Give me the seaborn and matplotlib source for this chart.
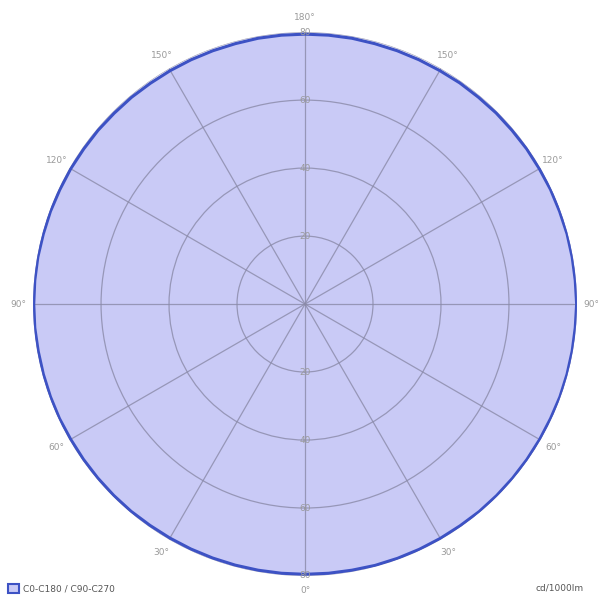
import numpy as np
import matplotlib
matplotlib.use("Agg")
import matplotlib.pyplot as plt
import seaborn as sns
from matplotlib.patches import Patch

# luminous intensity, cd/1000lm, every 5 degrees (0..360)
angles_deg = list(range(0, 361, 5))
intensity = [79.5, 79.5, 79.5, 79.6, 79.6, 79.6, 79.6, 79.6, 79.7, 79.7, 79.7, 79.7,
             79.7, 79.7, 79.8, 79.8, 79.8, 79.8, 79.9, 79.8, 79.8, 79.8, 79.7, 79.7,
             79.6, 79.6, 79.5, 79.5, 79.4, 79.4, 79.3, 79.3, 79.3, 79.3, 79.4, 79.4,
             79.4, 79.4, 79.4, 79.3, 79.3, 79.3, 79.3, 79.3, 79.4, 79.4, 79.5, 79.5,
             79.6, 79.6, 79.7, 79.7, 79.8, 79.8, 79.8, 79.8, 79.7, 79.7, 79.7, 79.7,
             79.6, 79.6, 79.6, 79.6, 79.6, 79.5, 79.5, 79.5, 79.5, 79.5, 79.5, 79.5,
             79.5]
r_ticks = [20, 40, 60, 80]
theta_ticks = [0, 30, 60, 90, 120, 150, 180, 210, 240, 270, 300, 330]
theta_labels = ["0°", "30°", "60°", "90°", "120°", "150°", "180°",
                "150°", "120°", "90°", "60°", "30°"]
legend_label = "C0-C180 / C90-C270"
unit_label = "cd/1000lm"

fill_color = "#c9caf6"
line_color = "#3d52c4"
grid_color = "#8a8aa8"
text_color = "#9a9a9a"

sns.set_style("white")
fig = plt.figure(figsize=(5.98, 5.99), dpi=100)
ax = fig.add_axes([0.0552, 0.0384, 0.9097, 0.908], projection="polar")
ax.set_theta_zero_location("S")
ax.set_theta_direction(1)

theta = np.deg2rad(angles_deg)
ax.fill(theta, intensity, color=fill_color, zorder=1)
sns.lineplot(x=theta, y=intensity, ax=ax, color=line_color, linewidth=2.2,
             sort=False, zorder=3)

ax.set_ylim(0, 80)
ax.set_yticks(r_ticks)
ax.set_yticklabels([])
ax.set_thetagrids(theta_ticks, theta_labels)
ax.tick_params(axis="x", colors=text_color, labelsize=6.5, pad=0)
ax.grid(True, color=grid_color, linewidth=0.9, alpha=0.8)
ax.spines["polar"].set_visible(False)
ax.set_xlabel("")
ax.set_ylabel("")
ax.set_axisbelow(False)

# radial labels along the vertical axis, top and bottom
for r in r_ticks:
    for a in (0, np.pi):
        ax.text(a, r, str(r), ha="center", va="center", fontsize=6.5,
                color=text_color, zorder=4)

handle = Patch(facecolor=fill_color, edgecolor=line_color, linewidth=1.5)
fig.legend([handle], [legend_label], loc="lower left", bbox_to_anchor=(0.0, -0.005),
           frameon=False, fontsize=6.5, handlelength=1.2, handleheight=1.2,
           handletextpad=0.5, labelcolor="#555555")
fig.text(0.895, 0.018, unit_label, ha="left", va="center", fontsize=6.5, color="#555555")

fig.savefig("out.png", dpi=100)
